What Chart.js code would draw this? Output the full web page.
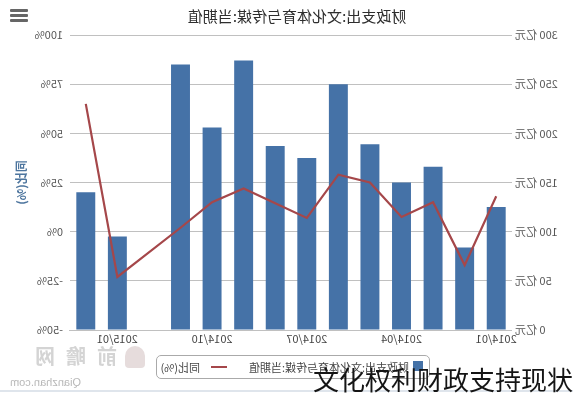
<!DOCTYPE html>
<html lang="zh">
<head>
    <meta charset="UTF-8">
    <title>财政支出:文化体育与传媒:当期值</title>
    <script src="https://cdn.jsdelivr.net/npm/chart.js"></script>
    <style>
        body {
            margin: 0;
            background: #fff;
            font-family: "Noto Sans CJK SC", "Noto Sans", sans-serif;
        }
        #page {
            position: relative;
            width: 573px;
            height: 397px;
            overflow: hidden;
        }
        /* the reference picture is a mirrored screenshot */
        #mirror {
            position: absolute;
            left: 0;
            top: 0;
            width: 573px;
            height: 397px;
            transform: scaleX(-1);
        }
        #title {
            position: absolute;
            top: 5px;
            left: 126px;
            width: 300px;
            text-align: center;
            font-size: 15px;
            color: #2e2e2e;
        }
        .menu {
            position: absolute;
            left: 545px;
            width: 18px;
            height: 3px;
            background: #666;
            border-radius: 1px;
        }
        #legend {
            position: absolute;
            left: 143px;
            top: 355px;
            width: 272px;
            height: 22px;
            border: 1px solid #aaa;
            border-radius: 5px;
            font-size: 11px;
            color: #444;
        }
        #legend span { position: absolute; top: 4px; line-height: 14px; }
        #logo {
            position: absolute;
            left: 456px;
            top: 341px;
            font-size: 20px;
            font-weight: bold;
            letter-spacing: 11px;
            color: #d4d4d4;
        }
        #logoIcon {
            position: absolute;
            left: 428px;
            top: 346px;
            width: 20px;
            height: 22px;
            border-radius: 10px 10px 4px 4px;
            background: #e6dcdc;
        }
        #site {
            position: absolute;
            left: 492px;
            top: 376px;
            font-size: 11px;
            color: #b8b8b8;
            font-family: "Liberation Sans", sans-serif;
        }
        #bottomLine {
            position: absolute;
            left: 0;
            top: 390px;
            width: 573px;
            height: 2px;
            background: #dfe5ec;
        }
        #caption {
            position: absolute;
            left: 313px;
            top: 360px;
            font-size: 26px;
            color: #151515;
            white-space: nowrap;
        }
    </style>
</head>
<body>
<div id="page">
    <div id="mirror">
        <canvas id="chart"></canvas>
        <div id="title">财政支出:文化体育与传媒:当期值</div>
        <div class="menu" style="top:9px"></div>
        <div class="menu" style="top:14px"></div>
        <div class="menu" style="top:19px"></div>
        <div id="legend">
            <span style="left:6px;top:5px;width:10px;height:10px;background:#4572A7;"></span>
            <span style="left:20px">财政支出:文化体育与传媒:当期值</span>
            <span style="left:202px;top:10px;width:16px;height:2px;background:#A5474A;"></span>
            <span style="left:229px">同比(%)</span>
        </div>
        <div id="logoIcon"></div>
        <div id="logo">前瞻网</div>
        <div id="site">Qianzhan.com</div>
    </div>
    <div id="bottomLine"></div>
    <div id="caption">文化权利财政支持现状</div>
</div>
<script>
    const months = ['2014/01', '2014/02', '2014/03', '2014/04', '2014/05', '2014/06', '2014/07',
                    '2014/08', '2014/09', '2014/10', '2014/11', '2014/12', '2015/01', '2015/02'];
    // 当期值, 亿元
    const spending = [125, 84, 166, 150, 189, 250, 175, 187, 274, 206, 270, null, 95, 140];
    // 同比, %
    const growth = [18, -17, 15, 7.5, 25, 29, 7, 14.5, 22, 15, 2, null, -23, 65];
    const shownLabels = ['2014/01', '2014/04', '2014/07', '2014/10', '2015/01'];

    const labelFont = { family: '"Noto Sans CJK SC", sans-serif', size: 11 };

    new Chart(document.getElementById('chart'), {
        data: {
            labels: months,
            datasets: [
                {
                    type: 'bar',
                    label: '财政支出:文化体育与传媒:当期值',
                    data: spending,
                    yAxisID: 'y',
                    backgroundColor: '#4572A7',
                    barPercentage: 0.6,
                    categoryPercentage: 1,
                    order: 2
                },
                {
                    type: 'line',
                    label: '同比(%)',
                    data: growth,
                    yAxisID: 'y1',
                    borderColor: '#A5474A',
                    borderWidth: 2.2,
                    pointRadius: 0,
                    spanGaps: true,
                    tension: 0,
                    order: 1
                }
            ]
        },
        options: {
            responsive: true,
            maintainAspectRatio: false,
            animation: false,
            layout: { padding: { top: 35, bottom: 47, left: 0, right: 0 } },
            plugins: {
                legend: { display: false },
                tooltip: { enabled: false }
            },
            scales: {
                x: {
                    grid: { display: false, drawTicks: false },
                    border: { color: '#C0C0C0' },
                    ticks: {
                        autoSkip: false,
                        maxRotation: 0,
                        padding: 2,
                        color: '#444',
                        font: labelFont,
                        callback: function(value) {
                            const m = months[value];
                            return shownLabels.includes(m) ? m : '';
                        }
                    },
                    afterFit: function(scale) { scale.height = 20; }
                },
                y: {
                    position: 'left',
                    min: 0,
                    max: 300,
                    grid: { color: '#C0C0C0', drawTicks: false },
                    border: { display: false },
                    ticks: {
                        stepSize: 50,
                        padding: 3,
                        color: '#555',
                        font: labelFont,
                        callback: v => v + ' 亿元'
                    },
                    afterFit: function(scale) { scale.width = 61; }
                },
                y1: {
                    position: 'right',
                    min: -50,
                    max: 100,
                    grid: { display: false, drawTicks: false },
                    border: { display: false },
                    ticks: {
                        stepSize: 25,
                        padding: 7,
                        color: '#555',
                        font: labelFont,
                        callback: v => v + '%'
                    },
                    title: {
                        display: true,
                        text: '同比(%)',
                        color: '#4d759e',
                        font: { family: '"Noto Sans CJK SC", sans-serif', size: 12, weight: 'bold' },
                        padding: { top: 14, bottom: 0 }
                    },
                    afterFit: function(scale) { scale.width = 70; }
                }
            }
        }
    });
</script>
</body>
</html>
